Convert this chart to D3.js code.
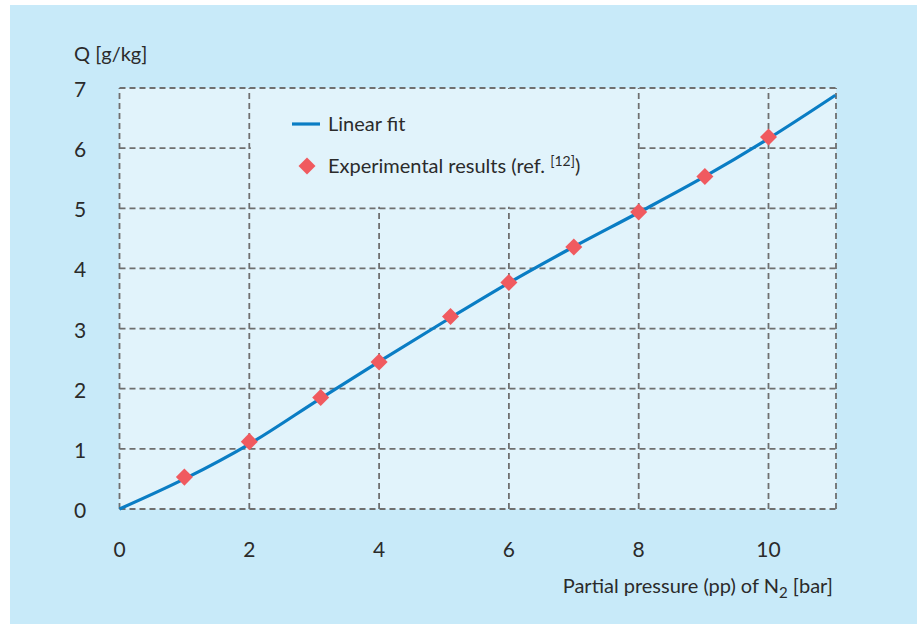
<!DOCTYPE html>
<html>
<head>
<meta charset="utf-8">
<script src="https://cdn.jsdelivr.net/npm/d3@7"></script>
<style>
  html, body { margin: 0; padding: 0; background: #ffffff; }
  svg { display: block; }
  text { font-family: Lato, "Open Sans", sans-serif; fill: #2b2b2b; }
</style>
</head>
<body>
<svg id="chart" width="917" height="624"></svg>
<script>
// Sorption of nitrogen: uptake Q versus N2 partial pressure
const xTicks = [0, 2, 4, 6, 8, 10];
const yTicks = [0, 1, 2, 3, 4, 5, 6, 7];

// Experimental results (ref. [12])
const expPressure = [1, 2, 3.1, 4, 5.1, 6, 7, 8, 9.02, 10];
const expQ = [0.53, 1.12, 1.855, 2.445, 3.2, 3.765, 4.355, 4.94, 5.53, 6.185];

// Linear fit curve
const fitPressure = [0, 1, 2, 3.1, 4, 5.1, 6, 7, 8, 9.02, 10, 11.03];
const fitQ = [0, 0.5, 1.08, 1.84, 2.45, 3.18, 3.76, 4.36, 4.93, 5.53, 6.16, 6.88];

const svg = d3.select("#chart");

const x = d3.scaleLinear().domain([0, 11.04]).range([119.5, 836]);
const y = d3.scaleLinear().domain([0, 7]).range([509, 88]);

// Panel background
svg.append("rect")
  .attr("x", 10).attr("y", 5)
  .attr("width", 907).attr("height", 619)
  .attr("fill", "#c8eaf9");

// Plot area
svg.append("rect")
  .attr("x", x(0)).attr("y", y(7))
  .attr("width", x(11.04) - x(0)).attr("height", y(0) - y(7))
  .attr("fill", "#e1f3fb");

// Dashed grid
const gridStyle = sel => sel
  .attr("stroke", "#6f6f6f")
  .attr("stroke-width", 1.8)
  .attr("stroke-dasharray", "6,4")
  .attr("fill", "none");

const grid = svg.append("g");
grid.selectAll("line.h").data(yTicks).join("line")
  .attr("class", "h")
  .attr("x1", x(0)).attr("x2", x(11.04))
  .attr("y1", d => y(d)).attr("y2", d => y(d))
  .call(gridStyle);
grid.selectAll("line.v").data(xTicks.concat([11.04])).join("line")
  .attr("class", "v")
  .attr("x1", d => x(d)).attr("x2", d => x(d))
  .attr("y1", y(0)).attr("y2", y(7))
  .call(gridStyle);

// Legend area clears the grid between p = 2..8 and Q = 5..7
svg.append("rect")
  .attr("x", x(2) + 1.5).attr("y", y(7) + 1.5)
  .attr("width", x(8) - x(2) - 3).attr("height", y(5) - y(7) - 3)
  .attr("fill", "#e1f3fb");

// Fit curve
const fitLine = d3.line()
  .x((d, i) => x(fitPressure[i]))
  .y(d => y(d))
  .curve(d3.curveMonotoneX);

svg.append("path")
  .datum(fitQ)
  .attr("d", fitLine)
  .attr("fill", "none")
  .attr("stroke", "#0a7dc4")
  .attr("stroke-width", 3.2)
  .attr("stroke-linejoin", "round");

// Experimental markers
const diamond = d3.symbol().type(d3.symbolDiamond2).size(185);
svg.append("g").selectAll("path")
  .data(expQ)
  .join("path")
  .attr("transform", (d, i) => `translate(${x(expPressure[i])},${y(d)})`)
  .attr("d", diamond)
  .attr("fill", "#f05a5f");

// Y tick labels
svg.append("g").selectAll("text")
  .data(yTicks).join("text")
  .attr("x", 74)
  .attr("y", d => y(d) + 9)
  .attr("font-size", 21)
  .text(d => d);

// X tick labels
svg.append("g").selectAll("text")
  .data(xTicks).join("text")
  .attr("x", d => x(d))
  .attr("y", 557)
  .attr("text-anchor", "middle")
  .attr("font-size", 21)
  .text(d => d);

// Axis titles
svg.append("text")
  .attr("x", 74).attr("y", 61)
  .attr("font-size", 20)
  .text("Q [g/kg]");

const xTitle = svg.append("text")
  .attr("x", 833).attr("y", 593)
  .attr("text-anchor", "end")
  .attr("font-size", 20);
xTitle.append("tspan").text("Partial pressure (pp) of N");
xTitle.append("tspan").attr("dy", 5).attr("font-size", 15).text("2");
xTitle.append("tspan").attr("dy", -5).text(" [bar]");

// Legend
const legend = svg.append("g");
legend.append("line")
  .attr("x1", 292).attr("x2", 320)
  .attr("y1", 124).attr("y2", 124)
  .attr("stroke", "#0a7dc4").attr("stroke-width", 3.2);
legend.append("text")
  .attr("x", 328).attr("y", 131)
  .attr("font-size", 20)
  .text("Linear fit");
legend.append("path")
  .attr("transform", "translate(307,166)")
  .attr("d", diamond)
  .attr("fill", "#f05a5f");
const expLabel = legend.append("text")
  .attr("x", 328).attr("y", 173)
  .attr("font-size", 20);
expLabel.append("tspan").text("Experimental results (ref. ");
expLabel.append("tspan").attr("dy", -7).attr("font-size", 14).text("[12]");
expLabel.append("tspan").attr("dy", 7).text(")");
</script>
</body>
</html>
